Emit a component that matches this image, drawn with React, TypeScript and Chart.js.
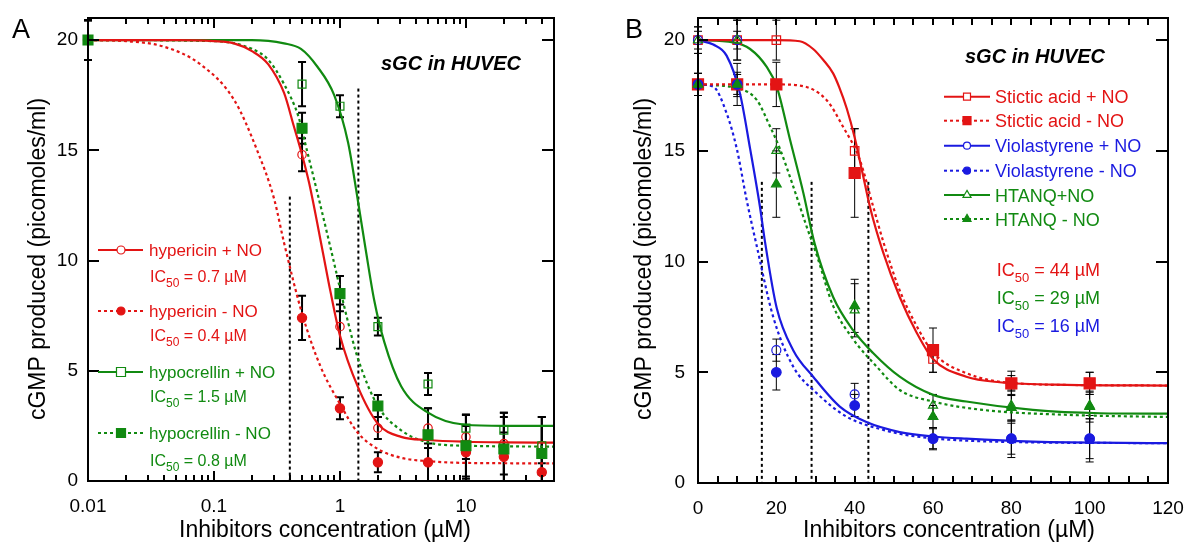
import React, { useEffect, useRef } from 'react';
import { Chart, registerables } from 'chart.js';

Chart.register(...registerables);

const FONT = '"Liberation Sans", Arial, Helvetica, sans-serif';
const RED = '#e31414';
const GREEN = '#118a11';
const BLUE = '#1a1ae0';

// ---------------- Panel A (log x) ----------------
const concA = [0.01, 0.5, 1, 2, 5, 10, 20, 40];
const hypericinPlusNO = [20, 14.8, 7.0, 2.4, 2.4, 2.0, 1.7, 1.6];
const hypericinPlusNOErr = [0.9, 0.75, 1.0, 0.5, 0.9, 1.0, 1.4, 1.3];
const hypericinMinusNO = [20, 7.4, 3.3, 0.85, 0.85, 1.3, 1.1, 0.4];
const hypericinMinusNOErr = [0.9, 1.0, 0.5, 0.45, 0.85, 1.2, 1.1, 0.4];
const hypocrellinPlusNO = [20, 18, 17, 7.0, 4.4, 2.4, 2.3, 1.6];
const hypocrellinPlusNOErr = [0.9, 1.0, 0.5, 0.4, 0.5, 0.6, 0.8, 1.3];
const hypocrellinMinusNO = [20, 16, 8.5, 3.4, 2.1, 1.6, 1.45, 1.25];
const hypocrellinMinusNOErr = [0.9, 0.7, 0.8, 0.5, 1.2, 1.4, 1.45, 1.25];

// fitted curves of panel A
const fitHypericinPlusX = [0.01, 0.05, 0.1, 0.144, 0.2, 0.27, 0.36, 0.43, 0.5, 0.57, 0.73, 0.84, 1.0, 1.38, 2.0, 3.06, 5, 10, 20, 50];
const fitHypericinPlusY = [20, 20, 19.95, 19.85, 19.5, 18.9, 17.6, 16.1, 14.8, 13.5, 10.4, 8.6, 6.6, 4.3, 2.6, 2.0, 1.86, 1.78, 1.75, 1.74];
const fitHypericinMinusX = [0.01, 0.02, 0.04, 0.078, 0.144, 0.22, 0.3, 0.36, 0.5, 0.7, 1.0, 1.38, 2.0, 3.06, 5, 10, 50];
const fitHypericinMinusY = [20, 19.95, 19.7, 18.9, 17.3, 15.0, 12.8, 10.8, 7.6, 5.2, 3.5, 2.2, 1.45, 1.05, 0.9, 0.82, 0.8];
const fitHypocrellinPlusX = [0.01, 0.1, 0.2, 0.36, 0.49, 0.66, 0.9, 1.16, 1.38, 1.6, 1.87, 2.25, 3.06, 5, 9.8, 20, 50];
const fitHypocrellinPlusY = [20, 20, 20, 19.85, 19.6, 18.8, 17.5, 15.35, 12.8, 10.5, 8.2, 6.3, 4.3, 3.1, 2.55, 2.5, 2.5];
const fitHypocrellinMinusX = [0.01, 0.1, 0.2, 0.27, 0.36, 0.47, 0.52, 0.66, 0.84, 1.16, 1.38, 2.0, 3.06, 5, 10, 50];
const fitHypocrellinMinusY = [20, 19.95, 19.6, 19.1, 18.0, 16.5, 15.5, 13.1, 10.6, 7.2, 5.6, 3.4, 2.3, 1.75, 1.6, 1.56];

const ic50LinesAX = [0.4, 1.4];
const ic50LinesATop = [12.9, 17.8];
const xTicksA = [0.01, 0.1, 1, 10];
const xTickLabelsA = ['0.01', '0.1', '1', '10'];
const ic50TextA = ['0.7', '0.4', '1.5', '0.8'];

// ---------------- Panel B (linear x) ----------------
const concB = [0, 10, 20, 40, 60, 80, 100];
const sticticPlusNO = [20, 20, 20, 15, 5.6, 4.5, 4.5];
const sticticPlusNOErr = [0.6, 0.9, 0.9, 1.0, 0.6, 0.55, 0.5];
const sticticMinusNO = [18, 18, 18, 14, 6.0, 4.5, 4.5];
const sticticMinusNOErr = [0.5, 0.95, 1.0, 2.0, 1.0, 0.35, 0.5];
const violaPlusNO = [20, 20, 6.0, 4.0, 2.0, 2.0, 2.0];
const violaPlusNOErr = [0.4, 0.4, 0.5, 0.5, 0.5, 0.7, 0.9];
const violaMinusNO = [18, 18, 5.0, 3.5, 2.0, 2.0, 2.0];
const violaMinusNOErr = [0.5, 0.45, 0.8, 0.5, 0.45, 0.85, 1.05];
const htanqPlusNO = [20, 20, 15, 7.8, 3.5, 3.5, 3.5];
const htanqPlusNOErr = [0.6, 0.9, 1.0, 1.2, 0.5, 0.7, 0.6];
const htanqMinusNO = [18, 18, 13.5, 8.0, 3.0, 3.4, 3.45];
const htanqMinusNOErr = [0.5, 0.55, 1.5, 1.2, 0.5, 0.6, 0.7];

const fitSticticPlusX = [0, 20, 26, 29.4, 32, 34.5, 36, 38, 40, 42, 44, 47.3, 51.5, 55.8, 60, 68.5, 77, 94, 120];
const fitSticticPlusY = [20, 20, 19.95, 19.6, 19.1, 18.5, 17.9, 16.9, 15.6, 14.0, 12.4, 10.4, 8.4, 6.8, 5.6, 4.8, 4.55, 4.43, 4.4];
const fitSticticMinusX = [0, 20, 26, 32.8, 37, 41.3, 44.7, 47.3, 51.5, 55.8, 60, 68.5, 81.3, 100, 120];
const fitSticticMinusY = [18, 18, 17.95, 17.3, 16.1, 14.6, 12.5, 10.9, 8.7, 7.1, 5.9, 4.96, 4.5, 4.42, 4.4];
const fitViolaPlusX = [0, 3.9, 7.3, 10.7, 13.3, 15.8, 17.1, 20.1, 24.3, 29.4, 36.2, 43, 51.5, 60, 68.5, 85.5, 120];
const fitViolaPlusY = [20, 19.8, 19.3, 17.6, 15.1, 12.5, 10.9, 7.9, 6.0, 4.8, 3.45, 2.75, 2.3, 2.1, 2.0, 1.87, 1.8];
const fitViolaMinusX = [0, 3.9, 7.3, 9.9, 12.4, 15.0, 19.2, 24.3, 30.3, 37.9, 47.3, 55.8, 80, 120];
const fitViolaMinusY = [18, 17.9, 16.7, 15.1, 12.8, 10.7, 7.5, 5.26, 4.06, 3.0, 2.4, 2.1, 1.85, 1.8];
const fitHtanqPlusX = [0, 9, 13.3, 17.5, 20.1, 23.5, 26.9, 29.8, 34.5, 39.6, 44.7, 51.5, 60, 68.5, 85.5, 102.6, 120];
const fitHtanqPlusY = [20, 19.9, 19.6, 18.8, 17.9, 15.5, 13.1, 10.8, 8.4, 6.9, 5.87, 4.8, 3.98, 3.68, 3.3, 3.15, 3.13];
const fitHtanqMinusX = [0, 10.7, 15, 18.4, 20.9, 24.3, 27.7, 30.3, 34.5, 39.6, 45.6, 51.5, 60, 72.8, 94, 120];
const fitHtanqMinusY = [18, 17.8, 17.3, 16.1, 15.1, 13.4, 11.6, 10.3, 8.0, 6.5, 5.26, 4.2, 3.68, 3.3, 3.08, 2.98];

const ic50LinesBX = [16.3, 29, 43.5];
const ic50LinesBTop = [13.6, 13.6, 13.6];
const xTicksB = [0, 20, 40, 60, 80, 100, 120];
const xTickLabelsB = ['0', '20', '40', '60', '80', '100', '120'];
const ic50TextB = ['44', '29', '16'];

const yTicks = [0, 5, 10, 15, 20];
const yTickLabels = ['0', '5', '10', '15', '20'];

type Marker = 'circle' | 'rect' | 'triangle';
interface Series {
  label: string;
  x: number[];
  y: number[];
  err: number[];
  color: string;
  marker: Marker;
  filled: boolean;
  radius: number;
  fitX: number[];
  fitY: number[];
  dashed: boolean;
  z: number;
}

const seriesA: Series[] = [
  { label: 'hypericin + NO', x: concA, y: hypericinPlusNO, err: hypericinPlusNOErr, color: RED, marker: 'circle', filled: false, radius: 4.2, fitX: fitHypericinPlusX, fitY: fitHypericinPlusY, dashed: false, z: 3 },
  { label: 'hypericin - NO', x: concA, y: hypericinMinusNO, err: hypericinMinusNOErr, color: RED, marker: 'circle', filled: true, radius: 4.6, fitX: fitHypericinMinusX, fitY: fitHypericinMinusY, dashed: true, z: 2 },
  { label: 'hypocrellin + NO', x: concA, y: hypocrellinPlusNO, err: hypocrellinPlusNOErr, color: GREEN, marker: 'rect', filled: false, radius: 5.6, fitX: fitHypocrellinPlusX, fitY: fitHypocrellinPlusY, dashed: false, z: 1 },
  { label: 'hypocrellin - NO', x: concA, y: hypocrellinMinusNO, err: hypocrellinMinusNOErr, color: GREEN, marker: 'rect', filled: true, radius: 7, fitX: fitHypocrellinMinusX, fitY: fitHypocrellinMinusY, dashed: true, z: 0 },
];

const seriesB: Series[] = [
  { label: 'Stictic acid + NO', x: concB, y: sticticPlusNO, err: sticticPlusNOErr, color: RED, marker: 'rect', filled: false, radius: 6, fitX: fitSticticPlusX, fitY: fitSticticPlusY, dashed: false, z: 4 },
  { label: 'Stictic acid - NO', x: concB, y: sticticMinusNO, err: sticticMinusNOErr, color: RED, marker: 'rect', filled: true, radius: 7.8, fitX: fitSticticMinusX, fitY: fitSticticMinusY, dashed: true, z: 5 },
  { label: 'Violastyrene + NO', x: concB, y: violaPlusNO, err: violaPlusNOErr, color: BLUE, marker: 'circle', filled: false, radius: 4.5, fitX: fitViolaPlusX, fitY: fitViolaPlusY, dashed: false, z: 2 },
  { label: 'Violastyrene - NO', x: concB, y: violaMinusNO, err: violaMinusNOErr, color: BLUE, marker: 'circle', filled: true, radius: 4.8, fitX: fitViolaMinusX, fitY: fitViolaMinusY, dashed: true, z: 3 },
  { label: 'HTANQ+NO', x: concB, y: htanqPlusNO, err: htanqPlusNOErr, color: GREEN, marker: 'triangle', filled: false, radius: 5.2, fitX: fitHtanqPlusX, fitY: fitHtanqPlusY, dashed: false, z: 1 },
  { label: 'HTANQ - NO', x: concB, y: htanqMinusNO, err: htanqMinusNOErr, color: GREEN, marker: 'triangle', filled: true, radius: 5.6, fitX: fitHtanqMinusX, fitY: fitHtanqMinusY, dashed: true, z: 0 },
];

function drawMarker(ctx: CanvasRenderingContext2D, m: Marker, x: number, y: number, size: number, color: string, filled: boolean) {
  ctx.save();
  ctx.strokeStyle = color;
  ctx.fillStyle = color;
  ctx.lineWidth = 1.2;
  ctx.setLineDash([]);
  ctx.beginPath();
  if (m === 'circle') {
    ctx.arc(x, y, size / 2, 0, Math.PI * 2);
  } else if (m === 'rect') {
    ctx.rect(x - size / 2, y - size / 2, size, size);
  } else {
    const r = size / Math.sqrt(3);
    ctx.moveTo(x, y - r);
    ctx.lineTo(x + size / 2, y + r / 2);
    ctx.lineTo(x - size / 2, y + r / 2);
    ctx.closePath();
  }
  if (filled) ctx.fill();
  else {
    ctx.fillStyle = '#fff';
    ctx.fill();
  }
  ctx.stroke();
  ctx.restore();
}

function drawIC50(ctx: CanvasRenderingContext2D, x: number, baseline: number, value: string, size: number, color: string) {
  ctx.save();
  ctx.fillStyle = color;
  ctx.textAlign = 'left';
  ctx.textBaseline = 'alphabetic';
  ctx.font = `${size}px ${FONT}`;
  ctx.fillText('IC', x, baseline);
  let cx = x + ctx.measureText('IC').width;
  const sub = Math.round(size * 0.74);
  ctx.font = `${sub}px ${FONT}`;
  ctx.fillText('50', cx, baseline + size * 0.33);
  cx += ctx.measureText('50').width;
  ctx.font = `${size}px ${FONT}`;
  ctx.fillText(` = ${value} \u00b5M`, cx, baseline);
  ctx.restore();
}

interface PanelCfg {
  series: Series[];
  xType: 'logarithmic' | 'linear';
  xMin: number;
  xMax: number;
  xTicks: number[];
  xTickLabels: string[];
  xMinor: number[];
  xMajorLen: number;
  xMinorLen: number;
  yLeftLen: number;
  yRightLen: number;
  padRight: number;
  yAxisWidth: number;
  xAxisHeight: number;
  yLabelPad: number;
  xLabelPad: number;
  errWidth: number;
  icX: number[];
  icTop: number[];
  letter: string;
  letterX: number;
  yTitleX: number;
  xTitleX: number;
  sgcX: number;
  sgcY: number;
  legend: (ctx: CanvasRenderingContext2D) => void;
}

function logMinor(min: number, max: number): number[] {
  const out: number[] = [];
  for (let e = -2; e <= 2; e++) {
    for (let k = 2; k <= 9; k++) {
      const v = k * Math.pow(10, e);
      if (v > min && v < max) out.push(v);
    }
  }
  return out;
}

function linMinor(min: number, max: number, step: number): number[] {
  const out: number[] = [];
  for (let v = min; v <= max; v += step) out.push(v);
  return out;
}

const panelA: PanelCfg = {
  series: seriesA,
  xType: 'logarithmic',
  xMin: 0.01,
  xMax: 50,
  xTicks: xTicksA,
  xTickLabels: xTickLabelsA,
  xMinor: logMinor(0.01, 50),
  xMajorLen: 10,
  xMinorLen: 6,
  yLeftLen: 11,
  yRightLen: 12,
  padRight: 40,
  yAxisWidth: 88,
  xAxisHeight: 63,
  yLabelPad: 10,
  xLabelPad: 14,
  errWidth: 2,
  icX: ic50LinesAX,
  icTop: ic50LinesATop,
  letter: 'A',
  letterX: 12,
  yTitleX: 45,
  xTitleX: 325,
  sgcX: 451,
  sgcY: 70,
  legend: (ctx) => {
    const rows = [250, 311, 372, 433];
    const textBase = [256, 317, 378, 439];
    const icBase = [282, 341, 402, 466];
    seriesA.forEach((s, i) => {
      ctx.save();
      ctx.strokeStyle = s.color;
      ctx.lineWidth = 2;
      ctx.setLineDash(s.dashed ? [3, 3] : []);
      ctx.beginPath();
      ctx.moveTo(98, rows[i]);
      ctx.lineTo(143, rows[i]);
      ctx.stroke();
      ctx.restore();
      drawMarker(ctx, s.marker, 121, rows[i], s.marker === 'circle' ? 8 : 9, s.color, s.filled);
      ctx.save();
      ctx.fillStyle = s.color;
      ctx.font = `17px ${FONT}`;
      ctx.textAlign = 'left';
      ctx.textBaseline = 'alphabetic';
      ctx.fillText(s.label, 149, textBase[i]);
      ctx.restore();
      drawIC50(ctx, 150, icBase[i], ic50TextA[i], 16, s.color);
    });
  },
};

const panelB: PanelCfg = {
  series: seriesB,
  xType: 'linear',
  xMin: 0,
  xMax: 120,
  xTicks: xTicksB,
  xTickLabels: xTickLabelsB,
  xMinor: linMinor(0, 120, 5),
  xMajorLen: 7,
  xMinorLen: 7,
  yLeftLen: 10,
  yRightLen: 12,
  padRight: 20,
  yAxisWidth: 104,
  xAxisHeight: 61,
  yLabelPad: 13,
  xLabelPad: 14,
  errWidth: 1,
  icX: ic50LinesBX,
  icTop: ic50LinesBTop,
  letter: 'B',
  letterX: 31,
  yTitleX: 57,
  xTitleX: 355,
  sgcX: 441,
  sgcY: 63,
  legend: (ctx) => {
    const rows = [96.7, 120.7, 145.7, 170.7, 195, 219];
    seriesB.forEach((s, i) => {
      ctx.save();
      ctx.strokeStyle = s.color;
      ctx.lineWidth = 2;
      ctx.setLineDash(s.dashed ? [3, 3] : []);
      ctx.beginPath();
      ctx.moveTo(350, rows[i]);
      ctx.lineTo(396, rows[i]);
      ctx.stroke();
      ctx.restore();
      const sz = s.marker === 'rect' ? (s.filled ? 8 : 7) : s.marker === 'circle' ? 7 : 8;
      drawMarker(ctx, s.marker, 373, rows[i], sz, s.color, s.filled);
      ctx.save();
      ctx.fillStyle = s.color;
      ctx.font = `18px ${FONT}`;
      ctx.textAlign = 'left';
      ctx.textBaseline = 'alphabetic';
      ctx.fillText(s.label, 401, rows[i] + 6.5);
      ctx.restore();
    });
    const icColors = [RED, GREEN, BLUE];
    const icBase = [276, 304, 331.7];
    ic50TextB.forEach((v, i) => drawIC50(ctx, 402.7, icBase[i], v, 18, icColors[i]));
  },
};

function buildChart(canvas: HTMLCanvasElement, p: PanelCfg): Chart {
  const datasets: any[] = [];
  p.series.forEach((s) => {
    datasets.push({
      label: s.label,
      data: s.x.map((v, i) => ({ x: v, y: s.y[i] })),
      showLine: false,
      pointStyle: s.marker,
      pointRadius: s.radius,
      pointHoverRadius: s.radius,
      pointBackgroundColor: s.filled ? s.color : 'rgba(255,255,255,0)',
      pointBorderColor: s.color,
      pointBorderWidth: 1.2,
      order: s.z,
      clip: false,
    });
    datasets.push({
      label: s.label + ' fit',
      data: s.fitX.map((v, i) => ({ x: v, y: s.fitY[i] })),
      showLine: true,
      borderColor: s.color,
      borderWidth: 2.2,
      borderDash: s.dashed ? [3, 3] : [],
      pointRadius: 0,
      pointHoverRadius: 0,
      cubicInterpolationMode: 'monotone',
      fill: false,
      order: 20,
    });
  });

  const decor = {
    id: 'decor' + p.letter,
    beforeDatasetsDraw(chart: any) {
      const { ctx, chartArea: a, scales } = chart;
      const xs = scales.x;
      const ys = scales.y;
      ctx.save();
      // IC50 vertical dotted lines
      ctx.strokeStyle = '#000';
      ctx.lineWidth = 2;
      ctx.setLineDash([3, 3]);
      p.icX.forEach((v, i) => {
        const px = xs.getPixelForValue(v);
        ctx.beginPath();
        ctx.moveTo(px, ys.getPixelForValue(p.icTop[i]));
        ctx.lineTo(px, a.bottom);
        ctx.stroke();
      });
      ctx.setLineDash([]);
      // error bars
      ctx.lineWidth = p.errWidth;
      p.series.forEach((s) => {
        s.x.forEach((xv, i) => {
          const px = xs.getPixelForValue(xv);
          const lo = ys.getPixelForValue(Math.max(0, s.y[i] - s.err[i]));
          const hi = ys.getPixelForValue(s.y[i] + s.err[i]);
          ctx.beginPath();
          ctx.moveTo(px, lo);
          ctx.lineTo(px, hi);
          ctx.moveTo(px - 4, lo);
          ctx.lineTo(px + 4, lo);
          ctx.moveTo(px - 4, hi);
          ctx.lineTo(px + 4, hi);
          ctx.stroke();
        });
      });
      ctx.restore();
    },
    afterDraw(chart: any) {
      const { ctx, chartArea: a, scales } = chart;
      const xs = scales.x;
      const ys = scales.y;
      ctx.save();
      ctx.strokeStyle = '#000';
      ctx.lineWidth = 2;
      ctx.setLineDash([]);
      ctx.strokeRect(a.left, a.top, a.right - a.left, a.bottom - a.top);
      const seg = (x1: number, y1: number, x2: number, y2: number) => {
        ctx.beginPath();
        ctx.moveTo(x1, y1);
        ctx.lineTo(x2, y2);
        ctx.stroke();
      };
      p.xMinor.forEach((v) => {
        const px = Math.round(xs.getPixelForValue(v));
        if (px <= a.left + 1 || px >= a.right - 1) return;
        const len = p.xTicks.includes(v) ? p.xMajorLen : p.xMinorLen;
        seg(px, a.bottom, px, a.bottom - len);
        seg(px, a.top, px, a.top + len);
      });
      p.xTicks.forEach((v) => {
        const px = Math.round(xs.getPixelForValue(v));
        if (px <= a.left + 1 || px >= a.right - 1) return;
        seg(px, a.bottom, px, a.bottom - p.xMajorLen);
        seg(px, a.top, px, a.top + p.xMajorLen);
      });
      yTicks.forEach((v) => {
        const py = Math.round(ys.getPixelForValue(v));
        if (py >= a.bottom - 1) return;
        seg(a.left, py, a.left + p.yLeftLen, py);
        seg(a.right, py, a.right - p.yRightLen, py);
      });
      // titles
      ctx.fillStyle = '#000';
      ctx.font = `23px ${FONT}`;
      ctx.textAlign = 'center';
      ctx.textBaseline = 'alphabetic';
      ctx.fillText('Inhibitors concentration (\u00b5M)', p.xTitleX, 537);
      ctx.save();
      ctx.translate(p.yTitleX, 259);
      ctx.rotate(-Math.PI / 2);
      ctx.fillText('cGMP produced (picomoles/ml)', 0, 0);
      ctx.restore();
      // panel letter
      ctx.font = `27px ${FONT}`;
      ctx.textAlign = 'left';
      ctx.fillText(p.letter, p.letterX, 38);
      // sGC in HUVEC
      ctx.font = `italic bold 20px ${FONT}`;
      ctx.textAlign = 'center';
      ctx.fillText('sGC in HUVEC', p.sgcX, p.sgcY);
      ctx.restore();
      p.legend(ctx);
    },
  };

  return new Chart(canvas, {
    type: 'scatter',
    data: { datasets },
    options: {
      responsive: false,
      animation: false,
      events: [],
      layout: { padding: { left: 0, right: p.padRight, top: 18, bottom: 0 } },
      plugins: { legend: { display: false }, tooltip: { enabled: false } },
      scales: {
        x: {
          type: p.xType,
          position: 'bottom',
          min: p.xMin,
          max: p.xMax,
          grid: { display: false, drawTicks: false },
          border: { display: false },
          afterBuildTicks: (s: any) => {
            s.ticks = p.xTicks.map((v) => ({ value: v }));
          },
          afterFit: (s: any) => {
            s.height = p.xAxisHeight;
            s.paddingLeft = 0;
            s.paddingRight = 0;
            s.paddingTop = 0;
            s.paddingBottom = 0;
          },
          ticks: {
            autoSkip: false,
            maxRotation: 0,
            padding: p.xLabelPad,
            color: '#000',
            font: { family: FONT, size: 19 },
            callback: (_v: any, i: number) => p.xTickLabels[i],
          },
        },
        y: {
          type: 'linear',
          position: 'left',
          min: 0,
          max: 21,
          grid: { display: false, drawTicks: false },
          border: { display: false },
          afterBuildTicks: (s: any) => {
            s.ticks = yTicks.map((v) => ({ value: v }));
          },
          afterFit: (s: any) => {
            s.width = p.yAxisWidth;
            s.paddingTop = 0;
            s.paddingBottom = 0;
            s.paddingLeft = 0;
            s.paddingRight = 0;
          },
          ticks: {
            padding: p.yLabelPad,
            color: '#000',
            font: { family: FONT, size: 19 },
            callback: (_v: any, i: number) => yTickLabels[i],
          },
        },
      },
    } as any,
    plugins: [decor],
  });
}

function Panel({ cfg, left }: { cfg: PanelCfg; left: number }) {
  const ref = useRef<HTMLCanvasElement | null>(null);
  useEffect(() => {
    if (!ref.current) return;
    const chart = buildChart(ref.current, cfg);
    return () => chart.destroy();
  }, [cfg]);
  return (
    <canvas
      ref={ref}
      width={594}
      height={544}
      style={{ position: 'absolute', left, top: 0, width: 594, height: 544 }}
    />
  );
}

export default function App() {
  return (
    <div style={{ position: 'absolute', left: 0, top: 0, width: 1188, height: 544, background: '#fff', overflow: 'hidden' }}>
      <Panel cfg={panelA} left={0} />
      <Panel cfg={panelB} left={594} />
    </div>
  );
}
